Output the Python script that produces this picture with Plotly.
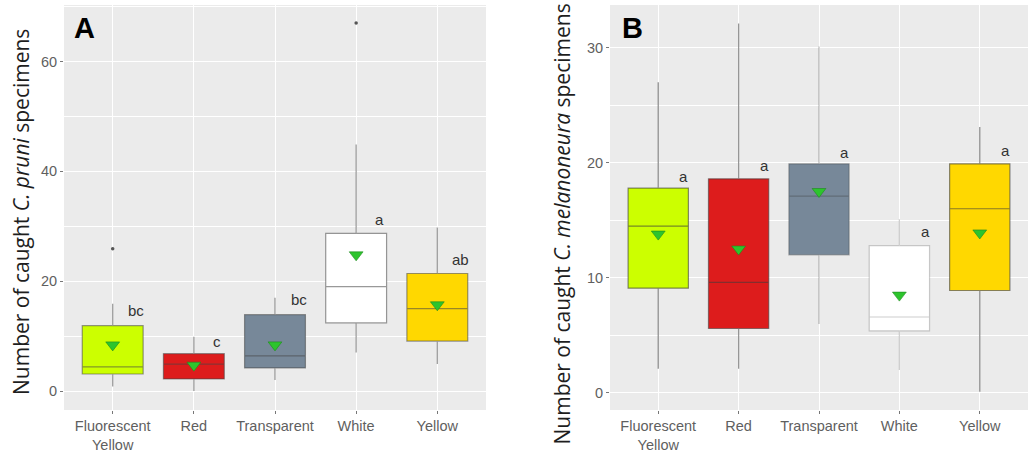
import plotly.graph_objects as go

categories = ["Fluorescent<br>Yellow", "Red", "Transparent", "White", "Yellow"]
colors = ["#CCFF00", "#DD1C1C", "#778899", "#FFFFFF", "#FFD800"]

# Panel A: C. pruni
a_q1 = [3.1, 2.2, 4.2, 12.4, 9.1]
a_med = [4.4, 4.9, 6.4, 19.0, 15.0]
a_q3 = [11.9, 6.8, 13.9, 28.7, 21.4]
a_low = [0.8, 0.0, 2.0, 7.0, 4.9]
a_up = [15.9, 9.9, 17.0, 44.9, 29.8]
a_mean = [8.4, 4.7, 8.4, 24.8, 15.7]
a_out_x = [0, 3]
a_out_y = [25.9, 67.0]
a_letters = ["bc", "c", "bc", "a", "ab"]
a_letter_y = [14.6, 9.1, 16.6, 31.2, 23.9]

# Panel B: C. melanoneura
b_q1 = [9.1, 5.6, 12.0, 5.4, 8.9]
b_med = [14.5, 9.6, 17.1, 6.6, 16.0]
b_q3 = [17.8, 18.6, 19.9, 12.8, 19.9]
b_low = [2.1, 2.1, 6.0, 2.0, 0.1]
b_up = [27.0, 32.1, 30.1, 15.1, 23.1]
b_mean = [13.8, 12.5, 17.5, 8.5, 13.9]
b_letters = ["a", "a", "a", "a", "a"]
b_letter_y = [18.8, 19.8, 20.9, 14.0, 21.1]

W, H = 1028, 452
fig = go.Figure()

def add_panel(xa, ya, q1, med, q3, low, up, mean, whisk_colors):
    for i in range(len(categories)):
        fig.add_trace(go.Box(
            x=[i], q1=[q1[i]], median=[med[i]], q3=[q3[i]],
            lowerfence=[low[i]], upperfence=[up[i]],
            fillcolor=colors[i], line=dict(color=whisk_colors[i], width=1.2),
            width=0.75, whiskerwidth=0, boxpoints=False,
            xaxis=xa, yaxis=ya, showlegend=False, hoverinfo="skip"))
    fig.add_trace(go.Scatter(
        x=list(range(len(categories))), y=mean, mode="markers",
        marker=dict(symbol="triangle-down", size=12, color="#2DC42D",
                    line=dict(color="#1E8A1E", width=0.6)),
        xaxis=xa, yaxis=ya, showlegend=False, hoverinfo="skip"))

add_panel("x", "y", a_q1, a_med, a_q3, a_low, a_up, a_mean,
          ["rgba(70,70,70,0.55)"] * 5)
add_panel("x2", "y2", b_q1, b_med, b_q3, b_low, b_up, b_mean,
          ["rgba(60,60,60,0.6)", "rgba(60,60,60,0.55)", "rgba(60,60,60,0.35)",
           "rgba(60,60,60,0.25)", "rgba(60,60,60,0.6)"])

fig.add_trace(go.Scatter(
    x=a_out_x, y=a_out_y, mode="markers",
    marker=dict(size=3.5, color="#555555"),
    xaxis="x", yaxis="y", showlegend=False, hoverinfo="skip"))

for i, t in enumerate(a_letters):
    fig.add_annotation(x=i + 0.29, y=a_letter_y[i], xref="x", yref="y", text=t,
                       showarrow=False, font=dict(family="Liberation Sans", size=15, color="#333333"))
for i, t in enumerate(b_letters):
    fig.add_annotation(x=i + 0.32, y=b_letter_y[i], xref="x2", yref="y2", text=t,
                       showarrow=False, font=dict(family="Liberation Sans", size=15, color="#333333"))

tickfont = dict(family="Liberation Sans", size=14.5, color="#5f5f5f")
common_x = dict(tickvals=list(range(5)), ticktext=categories, range=[-0.6, 4.6],
                showgrid=True, gridcolor="white", gridwidth=1.1, zeroline=False,
                ticks="outside", ticklen=3, tickcolor="#777", tickfont=tickfont,
                showline=False, ticklabelstandoff=0)
common_y = dict(showgrid=True, gridcolor="white", gridwidth=1.1, zeroline=False,
                ticks="outside", ticklen=3, tickcolor="#777", tickfont=tickfont,
                showline=False)

ydom = [1 - 410 / H, 1 - 5 / H]
fig.update_layout(
    width=W, height=H, margin=dict(l=0, r=0, t=0, b=0),
    paper_bgcolor="white", plot_bgcolor="#EBEBEB",
    xaxis=dict(domain=[64 / W, 486 / W], anchor="y", **common_x),
    yaxis=dict(domain=ydom, anchor="x", range=[-3.46, 70.3], tickvals=[0, 20, 40, 60],
               minor=dict(tickvals=[10, 30, 50, 70], showgrid=True, gridcolor="white", gridwidth=0.5, ticks=""),
               **common_y),
    xaxis2=dict(domain=[610 / W, 1.0], anchor="y2", **common_x),
    yaxis2=dict(domain=ydom, anchor="x2", range=[-1.48, 33.7], tickvals=[0, 10, 20, 30],
                minor=dict(tickvals=[5, 15, 25], showgrid=True, gridcolor="white", gridwidth=0.5, ticks=""),
                **common_y),
)

fig.add_annotation(x=21 / W, y=1 - 212 / H, xref="paper", yref="paper", textangle=-90,
                   text="Number of caught <i>C. pruni</i> specimens", showarrow=False,
                   font=dict(family="Open Sans", size=21, color="#1e1e1e"),
                   xanchor="center", yanchor="middle")
fig.add_annotation(x=561 / W, y=1 - 447 / H, xref="paper", yref="paper", textangle=-90,
                   text="Number of caught <i>C. melanoneura</i> specimens", showarrow=False,
                   font=dict(family="Open Sans", size=21, color="#1e1e1e"),
                   xanchor="center", yanchor="bottom")

panelfont = dict(family="Liberation Sans", size=29, color="black")
fig.add_annotation(x=72 / W, y=1 - 28 / H, xref="paper", yref="paper", text="<b>A</b>",
                   showarrow=False, font=panelfont, xanchor="left", yanchor="middle")
fig.add_annotation(x=620 / W, y=1 - 28 / H, xref="paper", yref="paper", text="<b>B</b>",
                   showarrow=False, font=panelfont, xanchor="left", yanchor="middle")

fig.write_html("out.html", config={"displayModeBar": False},
               post_script="document.body.style.margin='0px';document.body.style.overflow='hidden';")
